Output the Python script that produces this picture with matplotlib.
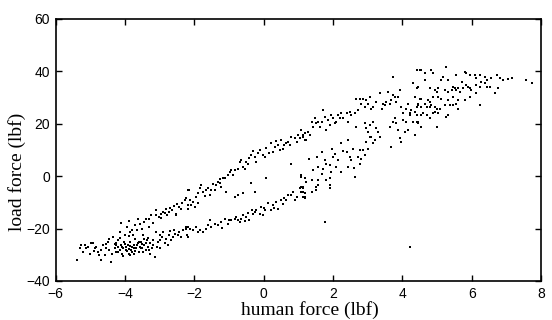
import numpy as np
import matplotlib
matplotlib.use("Agg")
import matplotlib.pyplot as plt

# (human force, load force) readings in lbf, grouped by region of the plot
left_cluster = [
    (-5.39, -31.9), (-5.31, -27.6), (-5.26, -26.4), (-5.17, -26.4), (-5.12, -27.6),
    (-5.07, -27.0), (-5.02, -29.6), (-4.97, -25.7), (-4.93, -25.7), (-4.88, -27.4),
    (-4.83, -27.0), (-4.78, -28.9), (-4.75, -30.2), (-4.69, -32.1), (-4.64, -26.4),
    (-4.59, -30.2), (-4.54, -27.6), (-4.49, -25.1), (-4.45, -28.3), (-4.40, -32.7),
    (-4.37, -29.6), (-4.35, -23.2), (-4.30, -27.6), (-4.27, -26.4), (-4.25, -28.9),
    (-4.21, -27.0), (-4.21, -24.5), (-4.16, -28.3), (-4.16, -21.3), (-4.11, -26.4),
    (-4.08, -29.6), (-4.06, -27.6), (-4.04, -25.1), (-4.01, -22.6), (-3.98, -28.3),
    (-3.97, -27.0), (-3.95, -19.4), (-3.92, -26.4), (-3.89, -29.6), (-3.87, -25.1),
    (-3.85, -21.3), (-3.82, -28.3), (-3.79, -27.0), (-3.77, -22.6), (-3.75, -29.6),
    (-3.73, -26.4), (-3.70, -23.8), (-3.68, -27.6), (-3.66, -20.6), (-3.63, -25.7),
    (-3.60, -28.9), (-3.58, -27.0), (-3.56, -18.1), (-3.53, -25.1), (-3.50, -27.6),
    (-3.48, -28.9), (-3.47, -22.6), (-3.44, -26.4), (-3.41, -16.2), (-3.39, -28.3),
    (-3.37, -24.5), (-3.34, -27.0), (-3.31, -19.4), (-3.29, -29.6), (-3.27, -25.7),
    (-3.24, -14.9), (-3.22, -27.6), (-3.20, -26.4), (-3.18, -24.5), (-3.15, -30.8),
    (-3.12, -21.3), (-3.10, -13.0), (-3.08, -27.0), (-3.05, -25.1), (-3.02, -15.5),
    (-3.00, -24.5), (-2.98, -27.6), (-2.96, -14.3), (-2.93, -23.2), (-2.91, -13.6),
    (-2.86, -25.7), (-2.83, -12.4), (-2.81, -23.8), (-2.79, -14.9), (-2.76, -26.4),
    (-2.73, -22.6), (-2.72, -13.6), (-2.67, -24.5), (-2.64, -13.0), (-2.62, -23.2),
    (-2.57, -21.9), (-2.54, -14.9), (-2.52, -14.3), (-2.48, -22.6), (-2.45, -11.7),
    (-2.43, -21.3), (-2.38, -23.2), (-2.35, -10.4), (-2.33, -20.6), (-2.28, -9.2),
    (-2.25, -20.0), (-2.23, -8.5), (-2.22, -22.6), (-2.19, -19.4), (-2.16, -5.4),
    (-2.18, -11.1), (-4.12, -17.8), (-3.90, -17.0), (-3.62, -16.5), (-4.45, -24.0),
    (-4.30, -26.0), (-4.20, -29.0), (-4.10, -27.0), (-4.00, -26.0), (-3.95, -28.6),
    (-3.90, -27.8), (-3.85, -26.8), (-3.80, -29.0), (-3.75, -27.5), (-3.70, -28.4),
    (-3.65, -26.2), (-3.60, -25.0), (-3.55, -27.5), (-3.50, -26.0), (-3.45, -24.0),
    (-3.40, -25.5), (-3.35, -23.5), (-3.30, -28.0), (-4.05, -30.5), (-3.85, -30.0),
    (-4.25, -25.5), (-4.15, -23.5), (-3.90, -23.0), (-3.80, -20.5), (-3.70, -18.5),
    (-3.50, -20.0), (-3.45, -17.5), (-3.30, -16.5), (-3.20, -18.0), (-3.10, -15.0),
    (-2.95, -16.0), (-2.85, -14.0), (-2.70, -12.0), (-2.60, -11.5), (-2.50, -10.5),
    (-2.40, -12.5), (-3.00, -22.5), (-2.90, -21.5), (-2.70, -21.0), (-2.60, -20.5),
    (-4.90, -28.5), (-4.70, -28.0), (-4.55, -26.0), (-5.20, -29.0),
]

mid_upper = [
    (-2.14, -9.2), (-2.09, -11.1), (-2.04, -9.8), (-2.18, -12.4), (-1.99, -11.7),
    (-1.90, -10.4), (-1.94, -7.9), (-1.85, -4.7), (-1.80, -3.4), (-1.75, -6.0),
    (-1.66, -5.4), (-1.61, -4.7), (-1.51, -5.4), (-1.56, -7.3), (-1.41, -5.4),
    (-1.37, -3.4), (-1.32, -2.2), (-1.27, -2.8), (-1.22, -4.1), (-1.17, -0.9),
    (-1.13, -0.9), (-1.08, -6.0), (-1.03, 0.4), (-0.98, 1.7), (-0.93, 2.3),
    (-0.84, 2.3), (-0.74, 2.9), (-0.69, 5.5), (-0.65, 6.1), (-0.60, 3.6),
    (-0.55, 2.9), (-0.45, 4.8), (-0.41, 6.8), (-0.36, 8.0), (-0.26, 7.4),
    (-0.21, 5.5), (-0.16, 8.7), (-0.12, 9.9), (-0.02, 8.0), (0.03, 7.4),
    (0.08, 10.6), (0.22, 12.5), (0.27, 9.3), (0.32, 11.2), (0.41, 11.9),
    (0.46, 9.9), (0.51, 13.8), (0.60, 11.9), (0.65, 12.5), (0.70, 13.1),
    (0.80, 15.0), (0.89, 14.4), (0.99, 15.7), (1.04, 14.4), (1.13, 15.7),
    (1.18, 13.8), (-1.90, -6.5), (-1.70, -7.5), (-1.45, -3.0), (-1.25, -1.0),
    (-0.90, 0.5), (-0.50, 5.5), (-0.30, 9.5), (0.15, 9.0), (0.35, 13.5),
    (0.55, 10.5), (0.75, 12.0), (0.95, 13.0),
]

mid_lower = [
    (-2.23, -19.4), (-2.14, -20.0), (-2.04, -20.6), (-1.94, -19.4), (-1.85, -20.6),
    (-1.66, -20.0), (-1.56, -16.8), (-1.51, -19.4), (-1.41, -18.1), (-1.32, -18.7),
    (-1.22, -17.5), (-1.13, -16.2), (-1.03, -18.1), (-0.93, -16.8), (-0.84, -16.2),
    (-0.79, -15.5), (-0.74, -16.8), (-0.69, -17.5), (-0.65, -16.2), (-0.60, -14.9),
    (-0.50, -15.5), (-0.41, -16.8), (-0.31, -14.3), (-0.26, -13.6), (-0.21, -13.0),
    (-0.12, -14.3), (-0.07, -11.7), (-0.02, -14.9), (0.03, -13.0), (0.12, -10.4),
    (0.22, -13.0), (0.27, -11.1), (0.36, -9.8), (0.41, -12.4), (0.51, -9.2),
    (0.60, -8.5), (0.65, -9.2), (0.70, -7.3), (0.80, -7.3), (0.89, -9.2),
    (1.04, -4.7), (1.09, -6.0), (1.13, -4.1), (1.18, -7.9), (-2.19, -23.3),
    (-1.75, -21.5), (-1.20, -19.8), (-0.45, -14.0), (-1.90, -21.5), (-1.60, -18.5),
    (-1.00, -16.8), (-0.55, -17.0), (-0.35, -13.0), (0.00, -12.0), (0.30, -12.0),
    (0.55, -10.5), (0.85, -6.0), (0.95, -8.0),
]

mid_inner = [
    (-0.36, -2.8), (-0.26, -6.0), (-0.60, -6.6), (-0.84, -7.9), (-0.74, -7.3),
    (0.08, -0.9), (0.80, 4.8), (1.09, 0.4), (-2.18, -5.4),
]

right_upper = [
    (1.09, 17.5), (1.14, 15.0), (1.18, 16.3), (1.23, 13.7), (1.28, 16.9),
    (1.33, 15.6), (1.38, 20.7), (1.42, 18.8), (1.47, 22.0), (1.52, 20.1),
    (1.57, 20.7), (1.62, 18.8), (1.67, 20.7), (1.71, 25.2), (1.76, 22.6),
    (1.81, 17.5), (1.86, 21.4), (1.91, 19.5), (1.95, 23.3), (2.00, 22.0),
    (2.05, 20.1), (2.10, 20.7), (2.15, 23.3), (2.19, 22.0), (2.24, 23.9),
    (2.29, 22.0), (2.39, 23.9), (2.43, 20.7), (2.48, 24.6), (2.53, 23.3),
    (2.63, 23.9), (2.67, 29.6), (2.72, 25.2), (2.77, 29.6), (2.82, 27.7),
    (2.87, 29.6), (2.92, 26.5), (2.96, 29.0), (3.01, 27.7), (3.06, 30.3),
    (3.11, 25.8), (3.16, 26.5), (3.25, 28.4), (3.35, 31.6), (3.40, 25.8),
    (3.44, 27.7), (3.49, 27.1), (3.54, 28.4), (3.59, 32.2), (3.64, 27.7),
    (3.68, 29.0), (3.73, 30.9), (3.78, 30.3), (3.83, 28.4), (3.88, 30.3),
    (3.92, 32.8), (3.97, 26.5), (4.02, 23.9), (4.12, 25.8), (4.17, 27.7),
    (4.21, 23.9), (4.26, 25.2), (4.31, 35.4), (4.36, 30.3), (4.41, 33.5),
    (4.45, 27.7), (4.41, 40.5), (3.73, 37.9),
]

loop = [
    (2.92, 20.1), (2.96, 18.2), (3.01, 16.9), (3.06, 19.5), (3.11, 15.0),
    (3.16, 20.7), (3.16, 12.5), (3.20, 13.7), (3.25, 18.2), (3.30, 16.9),
    (3.35, 15.0), (2.96, 13.1), (3.01, 10.5), (3.06, 15.0), (2.87, 9.9),
    (2.92, 8.0), (2.77, 9.9), (2.72, 7.4), (2.67, 18.8), (2.43, 13.7),
    (2.39, 9.3), (2.24, 12.5), (2.58, 10.5), (2.48, 7.4), (2.53, 6.1),
    (2.82, 6.7), (3.64, 18.8), (3.73, 20.7), (3.78, 22.0), (3.83, 20.1),
    (3.88, 17.5), (3.92, 14.4), (3.97, 13.1), (4.02, 21.4), (4.07, 16.9),
    (4.12, 20.7), (4.17, 17.5), (4.21, 23.3), (4.31, 20.7), (4.36, 24.6),
    (4.45, 20.7), (3.68, 11.2),
]

right_lower = [
    (1.42, 2.3), (1.57, 3.5), (1.67, 9.3), (1.71, 2.9), (1.76, 6.1),
    (1.81, 4.8), (1.91, 4.2), (2.00, 7.4), (2.05, 8.6), (2.10, 3.5),
    (2.15, 6.1), (1.95, 1.6), (1.67, 1.0), (2.24, 1.6), (2.43, 3.5),
    (2.77, 4.8), (1.57, -1.5), (1.81, -1.5), (1.91, -0.9), (1.38, -1.5),
    (1.23, -2.2), (1.09, -0.3), (1.18, -0.9), (1.09, -4.1), (1.14, -4.7),
    (1.04, -4.7), (1.14, -6.0), (1.18, -6.6), (1.14, -7.9), (1.18, -8.5),
    (1.38, -6.0), (1.52, -4.1), (1.57, -3.4), (1.52, -5.3), (1.91, -3.4),
    (1.91, -4.7), (2.63, -0.3), (1.30, 6.5), (1.55, 7.2), (1.98, 10.2),
    (2.30, 9.5), (2.60, 3.0),
]

far_right = [
    (4.41, 40.5), (4.50, 40.5), (4.55, 40.5), (4.65, 39.2), (4.84, 40.5),
    (4.89, 39.2), (5.27, 41.7), (5.18, 37.9), (5.13, 36.6), (5.32, 36.6),
    (5.56, 38.6), (5.80, 39.8), (5.85, 39.2), (5.95, 38.6), (6.09, 38.6),
    (6.24, 38.6), (6.14, 37.3), (6.38, 37.9), (6.43, 36.6), (6.57, 37.3),
    (6.72, 38.6), (6.81, 37.3), (6.91, 36.6), (7.05, 37.0), (7.15, 37.3),
    (7.58, 36.6), (7.73, 35.4), (4.46, 34.1), (4.65, 36.6), (4.79, 33.5),
    (4.94, 32.8), (4.99, 32.2), (5.03, 33.5), (5.23, 32.8), (5.32, 32.2),
    (5.42, 32.8), (5.47, 34.1), (5.51, 33.5), (5.56, 32.8), (5.61, 33.5),
    (5.66, 32.2), (5.71, 36.0), (5.75, 33.5), (5.85, 34.7), (5.90, 34.1),
    (5.95, 33.5), (5.99, 32.8), (6.14, 34.7), (6.24, 34.1), (6.28, 36.0),
    (6.38, 35.4), (6.43, 34.1), (6.52, 34.1), (6.67, 31.6), (6.76, 33.5),
    (6.14, 31.6), (5.95, 30.3), (5.80, 29.0), (5.61, 29.0), (5.47, 30.3),
    (5.32, 29.0), (5.13, 29.6), (5.03, 30.3), (4.89, 30.3), (4.79, 28.4),
    (4.74, 29.0), (4.70, 26.5), (4.65, 27.7), (4.55, 29.6), (4.50, 29.6),
    (4.46, 27.1), (4.41, 26.5), (4.55, 26.5), (4.79, 26.5), (4.84, 27.1),
    (4.94, 26.5), (4.99, 25.8), (5.08, 25.8), (5.23, 27.1), (5.37, 27.1),
    (5.47, 27.1), (5.61, 25.8), (5.56, 27.7), (6.24, 27.1), (4.55, 23.3),
    (4.60, 23.9), (4.70, 23.3), (4.79, 22.0), (4.89, 23.9), (4.94, 24.5),
    (5.03, 23.9), (5.27, 22.6), (5.32, 23.3), (4.41, 20.7), (4.46, 20.1),
    (4.55, 18.8), (4.99, 18.8), (4.36, 15.6), (4.36, 24.5), (4.41, 23.3),
]

strays = [(1.77, -17.6), (4.22, -27.0)]

groups = [left_cluster, mid_upper, mid_lower, mid_inner,
          right_upper, loop, right_lower, far_right, strays]
pts = np.array([p for g in groups for p in g])
human_force = pts[:, 0]
load_force = pts[:, 1]

x_ticks = [-6, -4, -2, 0, 2, 4, 6, 8]
y_ticks = [-40, -20, 0, 20, 40, 60]

fig = plt.figure(figsize=(5.52, 3.2), dpi=100)
ax = fig.add_axes([0.101, 0.122, 0.879, 0.819])

ax.scatter(human_force, load_force, s=2.5, marker='s', c='black', linewidths=0)

ax.set_xlim(-6, 8)
ax.set_ylim(-40, 60)
ax.set_xticks(x_ticks)
ax.set_yticks(y_ticks)
ax.tick_params(direction='in', top=True, right=True, length=4, width=1,
               labelsize=10)
ax.tick_params(axis='x', pad=4.5)
ax.tick_params(axis='y', pad=4)
for lab in ax.get_xticklabels() + ax.get_yticklabels():
    lab.set_family('Liberation Sans')
for sp in ax.spines.values():
    sp.set_linewidth(1.2)

ax.set_xlabel('human force (lbf)', family='Liberation Serif', fontsize=14)
ax.set_ylabel('load force (lbf)', family='Liberation Serif', fontsize=14)
ax.xaxis.set_label_coords(0.524, -0.075)
ax.yaxis.set_label_coords(-0.062, 0.416)

fig.savefig('out.png', dpi=100)
